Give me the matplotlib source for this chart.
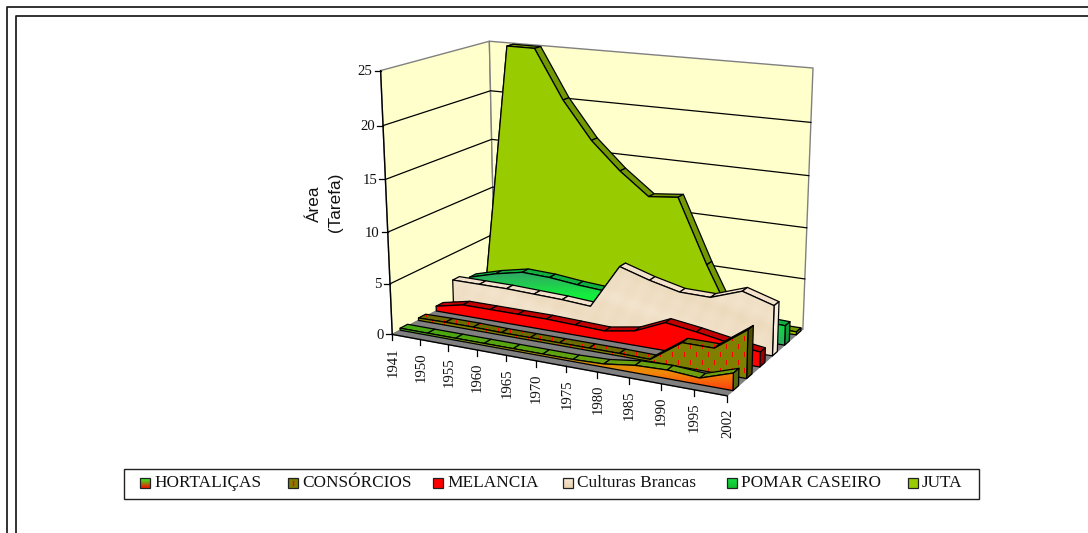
import numpy as np
import matplotlib
matplotlib.use('Agg')
from matplotlib import pyplot as plt
from matplotlib.patches import Polygon

years = ['1941', '1950', '1955', '1960', '1965', '1970', '1975', '1980', '1985', '1990', '1995', '2002']
y_ticks = [0, 5, 10, 15, 20, 25]

hortalicas = [0.2, 0.2, 0.2, 0.2, 0.2, 0.2, 0.2, 0.3, 0.7, 0.8, 0.6, 1.6]
consorcios = [0.25, 0.3, 0.3, 0.25, 0.25, 0.25, 0.25, 0.25, 0.2, 2.3, 2.3, 4.5]
melancia = [0.5, 1.1, 1.1, 1.1, 1.1, 1.0, 0.9, 1.4, 2.7, 2.3, 1.8, 1.4]
culturas = [2.3, 2.3, 2.3, 2.2, 2.1, 1.9, 6.3, 5.4, 4.7, 4.65, 5.7, 4.8]
pomar = [1.7, 2.5, 3.1, 3.0, 2.7, 2.5, 2.5, 2.5, 2.2, 2.0, 2.0, 1.9]
juta = [0.0, 25.0, 25.0, 20.2, 16.5, 13.8, 11.6, 11.9, 5.6, 0.0, 0.3, 0.3]

names = ['HORTALIÇAS', 'CONSÓRCIOS', 'MELANCIA', 'Culturas Brancas', 'POMAR CASEIRO', 'JUTA']
values = [hortalicas, consorcios, melancia, culturas, pomar, juta]

fig = plt.figure(figsize=(10.88, 5.33), dpi=100)
ax = fig.add_axes([0, 0, 1, 1])
ax.set_xlim(0, 1088)
ax.set_ylim(533, 0)
ax.axis('off')

# corners of the chart box in the picture -> camera matrix (category, depth, value)
box_3d = [(0, 0, 0), (1, 0, 0), (1, 1, 0), (0, 1, 0), (0, 0, 1), (0, 1, 1), (1, 1, 1)]
box_px = [(391, 332), (728, 397), (802, 328), (496, 282), (381, 72), (489, 40), (813, 68)]
rows = []
for (a, b, c), (px, py) in zip(box_3d, box_px):
    rows.append([a, b, c, 1, 0, 0, 0, 0, -px * a, -px * b, -px * c, -px])
    rows.append([0, 0, 0, 0, a, b, c, 1, -py * a, -py * b, -py * c, -py])
cam = np.linalg.svd(np.array(rows, dtype=float))[2][-1].reshape(3, 4)


def proj(i, w, v):
    h = cam @ np.array([i / (len(years) - 1), w, v / y_ticks[-1], 1.0])
    return h[0] / h[2], h[1] / h[2]


z = [1]


def face(pts, color=None, edge='k', lw=0.9, img=None):
    z[0] += 2
    if img is None:
        ax.add_patch(Polygon(pts, closed=True, fc=color, ec=edge, lw=lw, zorder=z[0], joinstyle='round'))
        return
    xs = [p[0] for p in pts]
    ys = [p[1] for p in pts]
    data, ext = img(min(xs), max(xs), min(ys), max(ys))
    im = ax.imshow(data, extent=ext, origin='upper', aspect='auto', zorder=z[0], interpolation='bilinear')
    clip = Polygon(pts, closed=True, transform=ax.transData)
    im.set_clip_path(clip)
    ax.add_patch(Polygon(pts, closed=True, fc='none', ec=edge, lw=lw, zorder=z[0] + 1, joinstyle='round'))


def ramp(y_stops, colors):
    def make(x0, x1, y0, y1):
        yy = np.arange(int(y0) - 1, int(y1) + 2)
        rgb = [np.interp(yy, y_stops, [matplotlib.colors.to_rgb(c)[n] for c in colors]) for n in range(3)]
        return np.stack(rgb, axis=1)[:, None, :], (x0, x1, yy[-1], yy[0])
    return make


def dashes(base, mark='#FF0000', step=12):
    # olive fill with small staggered red dashes
    def make(x0, x1, y0, y1):
        xx = np.arange(int(x0) - 1, int(x1) + 2)
        yy = np.arange(int(y0) - 1, int(y1) + 2)
        out = np.ones((len(yy), len(xx), 3)) * matplotlib.colors.to_rgb(base)
        for r, yv in enumerate(yy):
            for c, xv in enumerate(xx):
                row = yv // 8
                if (xv + (row % 2) * step // 2) % step == 0 and yv % 8 < 5:
                    out[r, c] = matplotlib.colors.to_rgb(mark)
        return out, (xx[0], xx[-1] + 1, yy[-1] + 1, yy[0])
    return make


def paper(base, dark):
    # soft mottled paper look for Culturas Brancas
    def make(x0, x1, y0, y1):
        xx, yy = np.meshgrid(np.arange(x0, x1 + 1), np.arange(y0, y1 + 1))
        m = (np.sin(xx * 0.09 + yy * 0.23) * np.sin(xx * 0.21 - yy * 0.07) + np.sin(xx * 0.05 - yy * 0.13)) / 4 + 0.5
        b = np.array(matplotlib.colors.to_rgb(base))
        d = np.array(matplotlib.colors.to_rgb(dark))
        return b + (d - b) * m[..., None], (x0, x1, y1, y0)
    return make


# walls and floor
face([proj(0, 0, 0), proj(0, 0, 25), proj(0, 1, 25), proj(0, 1, 0)], '#FFFFCC', '#808080', 1.0)
face([proj(0, 1, 0), proj(0, 1, 25), proj(11, 1, 25), proj(11, 1, 0)], '#FFFFCC', '#808080', 1.0)
face([proj(0, 0, 0), proj(11, 0, 0), proj(11, 1, 0), proj(0, 1, 0)], '#808080', '#808080', 0.8)

z[0] += 2
for t in y_ticks[1:-1]:
    pts = [proj(0, 0, t), proj(0, 1, t), proj(11, 1, t)]
    ax.plot([p[0] for p in pts], [p[1] for p in pts], color='k', lw=0.9, zorder=z[0])

# axis lines and ticks
a0, a1 = proj(0, 0, 0), proj(0, 0, 25)
ax.plot([a0[0], a1[0]], [a0[1], a1[1]], color='k', lw=1.0, zorder=z[0])
for t in y_ticks:
    px, py = proj(0, 0, t)
    ax.plot([px - 6, px], [py, py], color='k', lw=0.9, zorder=z[0])
    ax.text(px - 8, py + 1, str(t), ha='right', va='center', family='Liberation Serif', fontsize=10.6, color='#111111')
b0, b1 = proj(0, 0, 0), proj(11, 0, 0)
ax.plot([b0[0], b1[0]], [b0[1], b1[1]], color='k', lw=1.0, zorder=500)
for i, lab in enumerate(years):
    px, py = proj(i, 0, 0)
    ax.plot([px, px], [py, py + 6], color='k', lw=0.9, zorder=500)
    ax.text(px + 1, py + 13, lab, rotation=90, ha='center', va='top', family='Liberation Serif', fontsize=10.6, color='#111111')

ax.text(314, 204, 'Área', rotation=90, ha='center', va='center', family='Liberation Sans', fontsize=12.3, color='#111111')
ax.text(336, 202, '(Tarefa)', rotation=90, ha='center', va='center', family='Liberation Sans', fontsize=12.3, color='#111111')

# series styles, front to back
front_fill = [
    dict(img=ramp([328, 350, 372, 395], ['#44BB22', '#B09A10', '#F08A08', '#FF3010'])),
    dict(img=dashes('#808000')),
    dict(color='#FF0000'),
    dict(img=paper('#F3E4CE', '#ECDABC')),
    dict(img=ramp([270, 296, 330, 350], ['#33A06A', '#14F03C', '#14D048', '#38A06E'])),
    dict(color='#99CC00'),
]
top_fill = [
    dict(img=ramp([325, 370, 395], ['#44AA11', '#70A010', '#70900C'])),
    dict(img=dashes('#6B6B00')),
    dict(color='#C00000'),
    dict(color='#F5E2CC'),
    dict(color='#10B040'),
    dict(color='#739900'),
]
side_fill = ['#556B10', '#4D4D00', '#A00000', '#F8ECDC', '#109A38', '#5C7A00']

for k in range(5, -1, -1):
    vals = values[k]
    wf = (k + 0.42) / 6
    wb = (k + 0.82) / 6
    n = len(vals)
    # ribbon on top of the area, the front face then hides the rising parts
    for i in range(n - 1):
        face([proj(i, wf, vals[i]), proj(i + 1, wf, vals[i + 1]), proj(i + 1, wb, vals[i + 1]), proj(i, wb, vals[i])], **top_fill[k])
    face([proj(n - 1, wf, vals[-1]), proj(n - 1, wb, vals[-1]), proj(n - 1, wb, 0), proj(n - 1, wf, 0)], side_fill[k])
    front = [proj(0, wf, 0)] + [proj(i, wf, vals[i]) for i in range(n)] + [proj(n - 1, wf, 0)]
    face(front, **front_fill[k])

# page frame
for off in (6.5, 15.5):
    ax.plot([off, off, 1088], [533, off, off], color='#222222', lw=1.3, zorder=600)

# legend
ax.add_patch(plt.Rectangle((124, 469), 855, 30, fc='white', ec='#222222', lw=1.0, zorder=600))
swatch_x = [140, 288, 433, 563, 727, 908]
swatch_fill = [
    ramp([478, 488], ['#33EE22', '#EE2200']),
    ramp([478, 488], ['#808000', '#808000']),
    ramp([478, 488], ['#FF0000', '#FF0000']),
    ramp([478, 488], ['#F6E6D2', '#EBD3B0']),
    ramp([478, 488], ['#10E040', '#10C030']),
    ramp([478, 488], ['#99CC00', '#99CC00']),
]
for sx, lab, fill in zip(swatch_x, names, swatch_fill):
    data, ext = fill(sx, sx + 10, 478, 488)
    ax.imshow(data, extent=(sx, sx + 10, 488, 478), origin='upper', aspect='auto', zorder=601)
    ax.add_patch(plt.Rectangle((sx, 478), 10, 10, fc='none', ec='#222222', lw=0.9, zorder=602))
    ax.text(sx + 14, 483, lab, ha='left', va='center', family='Liberation Serif', fontsize=12.4, color='#111111', zorder=602)
ax.plot([293, 293], [481, 485], color='#FF0000', lw=1.0, zorder=603)

ax.set_xlim(0, 1088)
ax.set_ylim(533, 0)
fig.savefig('out.png', dpi=100, facecolor='white')
